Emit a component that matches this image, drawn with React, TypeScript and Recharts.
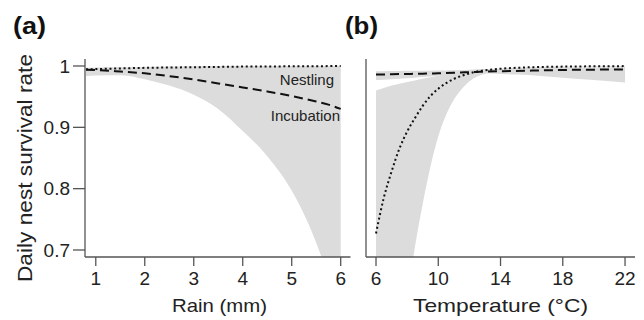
import React from 'react';
import { ComposedChart, Area, Line, XAxis, YAxis } from 'recharts';

// (a) rain
const rainX = [0.8, 1, 1.5, 2, 2.5, 3, 3.5, 4, 4.5, 5, 5.5, 5.75, 6];
const rainNestling = [0.9945, 0.995, 0.996, 0.997, 0.9975, 0.998, 0.9985, 0.999, 0.9992, 0.9995, 0.9997, 0.9998, 0.9999];
const rainIncubation = [0.994, 0.9935, 0.991, 0.988, 0.9835, 0.978, 0.9715, 0.965, 0.9585, 0.951, 0.942, 0.937, 0.93];
const rainUpper = [0.997, 0.9975, 0.998, 0.9985, 0.999, 0.9995, 1, 1, 1, 1, 1, 1, 1];
const rainLower = [0.9836, 0.9845, 0.985, 0.9785, 0.968, 0.953, 0.93, 0.894, 0.853, 0.797, 0.712, 0.655, 0.59];
const rainTicks = [1, 2, 3, 4, 5, 6];

// (b) temperature
const tempX = [6, 6.5, 7, 7.5, 8, 8.5, 9, 9.5, 10, 10.5, 11, 11.5, 12, 12.5, 13, 14, 15, 16, 18, 20, 22];
const tempNestling = [0.727, 0.785, 0.828, 0.865, 0.893, 0.915, 0.935, 0.951, 0.963, 0.972, 0.979, 0.984, 0.988, 0.991, 0.993, 0.9955, 0.997, 0.998, 0.999, 0.9995, 0.9998];
const tempIncubation = [0.986, 0.9862, 0.9865, 0.9868, 0.987, 0.9873, 0.9875, 0.9878, 0.988, 0.9885, 0.989, 0.9895, 0.99, 0.9904, 0.9908, 0.9915, 0.992, 0.9925, 0.9935, 0.994, 0.9945];
const tempIncUpper = [0.9915, 0.9916, 0.9918, 0.992, 0.9921, 0.9922, 0.9923, 0.9924, 0.9925, 0.9928, 0.993, 0.9935, 0.994, 0.9945, 0.995, 0.995, 0.996, 0.9965, 0.997, 0.9975, 0.998];
const tempIncLower = [0.977, 0.9776, 0.9785, 0.9792, 0.98, 0.981, 0.982, 0.983, 0.984, 0.9848, 0.9855, 0.9862, 0.987, 0.9875, 0.988, 0.987, 0.986, 0.985, 0.981, 0.977, 0.973];
const tempNestUpper = [0.96, 0.964, 0.968, 0.971, 0.974, 0.9765, 0.979, 0.9815, 0.984, 0.986, 0.988, 0.9895, 0.991, 0.9925, 0.994, 0.996, 0.997, 0.998, 0.999, 0.9995, 1];
const tempNestLower = [0.35, 0.415, 0.48, 0.55, 0.62, 0.705, 0.775, 0.836, 0.885, 0.92, 0.945, 0.962, 0.975, 0.983, 0.987, 0.991, 0.993, 0.995, 0.997, 0.998, 0.9985];
const tempTicks = [6, 10, 14, 18, 22];

const yTicks = [0.7, 0.8, 0.9, 1];

const rainData = rainX.map((x, i) => ({
  x,
  nest: rainNestling[i],
  inc: rainIncubation[i],
  band: [rainLower[i], rainUpper[i]],
}));

const tempData = tempX.map((x, i) => ({
  x,
  nest: tempNestling[i],
  inc: tempIncubation[i],
  incBand: [tempIncLower[i], tempIncUpper[i]],
  nestBand: [tempNestLower[i], tempNestUpper[i]],
}));

const FONT = '"Liberation Sans", Arial, sans-serif';
const AXIS = '#555';
const BAND = '#dcdcdc';
const Y_DOMAIN: [number, number] = [0.6886, 1.0114];
const tickStyle = { fill: '#222', fontSize: 19, fontFamily: FONT };

const App: React.FC = () => {
  return (
    <div style={{ position: 'absolute', left: 0, top: 0, width: 644, height: 320, background: '#fff' }}>
      <div style={{ position: 'absolute', left: 0, top: 0 }}>
        <ComposedChart width={360} height={320} data={rainData} margin={{ top: 59, right: 9.5, bottom: 33, left: 0 }}>
          <XAxis
            type="number"
            dataKey="x"
            domain={[0.78, 6.2]}
            ticks={rainTicks}
            allowDataOverflow
            height={30}
            tickSize={9}
            tickMargin={6}
            tick={tickStyle}
            axisLine={{ stroke: AXIS, strokeWidth: 1.3 }}
            tickLine={{ stroke: AXIS, strokeWidth: 1.3 }}
          />
          <YAxis
            type="number"
            domain={Y_DOMAIN}
            ticks={yTicks}
            allowDataOverflow
            width={85}
            tickSize={12}
            tickMargin={3}
            tick={tickStyle}
            tickFormatter={(v: number) => (v === 1 ? '1' : v.toFixed(1))}
            axisLine={{ stroke: AXIS, strokeWidth: 1.3 }}
            tickLine={{ stroke: AXIS, strokeWidth: 1.3 }}
          />
          <Area type="monotone" dataKey="band" stroke="none" fill={BAND} fillOpacity={1} isAnimationActive={false} />
          <Line type="monotone" dataKey="inc" stroke="#111" strokeWidth={2} strokeDasharray="9 5" dot={false} isAnimationActive={false} />
          <Line type="monotone" dataKey="nest" stroke="#111" strokeWidth={2} strokeDasharray="2 2.7" dot={false} isAnimationActive={false} />
        </ComposedChart>
      </div>
      <div style={{ position: 'absolute', left: 340, top: 0 }}>
        <ComposedChart width={304} height={320} data={tempData} margin={{ top: 59, right: 9, bottom: 33, left: 0 }}>
          <XAxis
            type="number"
            dataKey="x"
            domain={[5.357, 22.64]}
            ticks={tempTicks}
            allowDataOverflow
            height={30}
            tickSize={9}
            tickMargin={6}
            tick={tickStyle}
            axisLine={{ stroke: AXIS, strokeWidth: 1.3 }}
            tickLine={{ stroke: AXIS, strokeWidth: 1.3 }}
          />
          <YAxis
            type="number"
            domain={Y_DOMAIN}
            ticks={yTicks}
            allowDataOverflow
            width={26}
            tick={false}
            tickLine={false}
            axisLine={{ stroke: AXIS, strokeWidth: 1.3 }}
          />
          <Area type="monotone" dataKey="nestBand" stroke="none" fill={BAND} fillOpacity={1} isAnimationActive={false} />
          <Area type="monotone" dataKey="incBand" stroke="none" fill={BAND} fillOpacity={1} isAnimationActive={false} />
          <Line type="monotone" dataKey="inc" stroke="#111" strokeWidth={2} strokeDasharray="9 5" dot={false} isAnimationActive={false} />
          <Line type="monotone" dataKey="nest" stroke="#111" strokeWidth={2} strokeDasharray="2 2.7" dot={false} isAnimationActive={false} />
        </ComposedChart>
      </div>
      {/* titles and labels */}
      <svg width={644} height={320} style={{ position: 'absolute', left: 0, top: 0, pointerEvents: 'none' }} fontFamily={FONT}>
        <text x={13} y={34} fontSize={24} fontWeight="bold" fill="#111" textLength={33} lengthAdjust="spacingAndGlyphs">(a)</text>
        <text x={345} y={34} fontSize={24} fontWeight="bold" fill="#111" textLength={33} lengthAdjust="spacingAndGlyphs">(b)</text>
        <text transform="translate(32,168) rotate(-90)" textAnchor="middle" fontSize={21} fill="#222" textLength={228} lengthAdjust="spacingAndGlyphs">
          Daily nest survival rate
        </text>
        <text x={219.5} y={311.5} textAnchor="middle" fontSize={19} fill="#222" textLength={95} lengthAdjust="spacingAndGlyphs">Rain (mm)</text>
        <text x={500.5} y={311.5} textAnchor="middle" fontSize={19} fill="#222" textLength={175} lengthAdjust="spacingAndGlyphs">Temperature (°C)</text>
        <text x={334} y={84.5} textAnchor="end" fontSize={15} fill="#222">Nestling</text>
        <text x={340} y={120.5} textAnchor="end" fontSize={15} fill="#222">Incubation</text>
      </svg>
    </div>
  );
};

export default App;
